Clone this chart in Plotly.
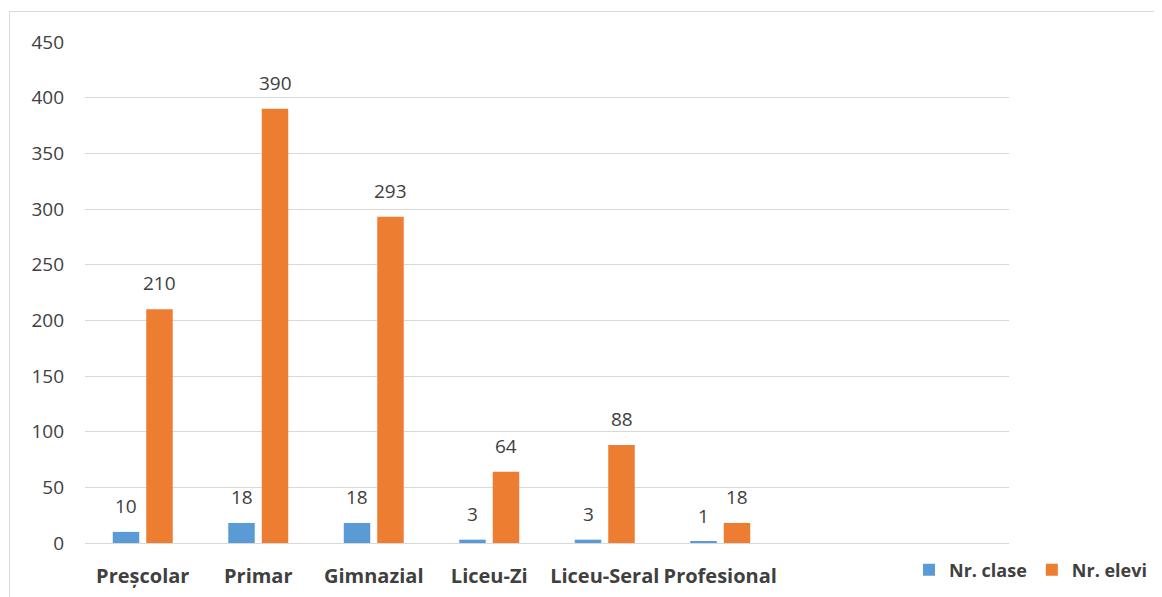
import plotly.graph_objects as go

categories = ["Preșcolar", "Primar", "Gimnazial", "Liceu-Zi", "Liceu-Seral", "Profesional"]
nr_clase = [10, 18, 18, 3, 3, 1]
nr_elevi = [210, 390, 293, 64, 88, 18]
y_ticks = [0, 50, 100, 150, 200, 250, 300, 350, 400, 450]

FONT = "Open Sans"
BLUE = "#5B9BD5"
ORANGE = "#ED7D31"
LABEL = "#404040"

fig = go.Figure()
fig.add_trace(go.Bar(name="Nr. clase", x=categories, y=nr_clase, marker_color=BLUE,
                     marker_line_width=0))
fig.add_trace(go.Bar(name="Nr. elevi", x=categories, y=nr_elevi, marker_color=ORANGE,
                     marker_line_width=0))

# data labels above bars
offset_px = 16.75
for vals, sh in ((nr_clase, -offset_px), (nr_elevi, offset_px)):
    for c, v in zip(categories, vals):
        fig.add_annotation(x=c, y=v, xref="x", yref="y", text=str(v), showarrow=False,
                           xshift=sh, yshift=11, yanchor="bottom",
                           font=dict(family=FONT, size=19, color=LABEL))

# page body has an 8px margin; figure coordinates are window coordinates minus 8
OFF = 8
W, H = 1154, 589
L, T = 85 - OFF, 42 - OFF
R = OFF + W - 1009
B = OFF + H - 543
pw = W - L - R
ph = H - T - B

def px_x(p):
    return (p - OFF - L) / pw

def px_y(p):
    return (OFF + H - B - p) / ph

# outer chart border (left and top visible)
fig.add_shape(type="line", xref="paper", yref="paper",
              x0=px_x(9.5), x1=px_x(1200), y0=px_y(11.5), y1=px_y(11.5),
              line=dict(color="#d9d9d9", width=1))
fig.add_shape(type="line", xref="paper", yref="paper",
              x0=px_x(9.5), x1=px_x(9.5), y0=px_y(11.5), y1=px_y(640),
              line=dict(color="#d9d9d9", width=1))

fig.update_layout(
    width=W, height=H,
    margin=dict(l=L, r=R, t=T, b=B, autoexpand=False),
    paper_bgcolor="white", plot_bgcolor="white",
    barmode="group", bargap=0.42, bargroupgap=0.209,
    font=dict(family=FONT, color=LABEL),
    showlegend=True,
    legend=dict(orientation="h", x=px_x(909), y=px_y(570), xanchor="left", yanchor="middle",
                font=dict(family=FONT, size=18, color=LABEL, weight="bold"),
                bgcolor="rgba(0,0,0,0)", itemwidth=30, traceorder="normal"),
    xaxis=dict(range=[-0.5, 7.5], showgrid=False, zeroline=False, showline=False,
               ticks="", ticklabelstandoff=19,
               tickfont=dict(family=FONT, size=20, color=LABEL, weight="bold")),
    yaxis=dict(range=[0, 450], tickvals=y_ticks, showgrid=True, gridcolor="#d9d9d9",
               gridwidth=1, zeroline=True, zerolinecolor="#d9d9d9", zerolinewidth=1,
               showline=False, ticks="", ticklabelstandoff=20,
               tickfont=dict(family=FONT, size=19, color="#404040")),
)

fig.write_html("out.html")
